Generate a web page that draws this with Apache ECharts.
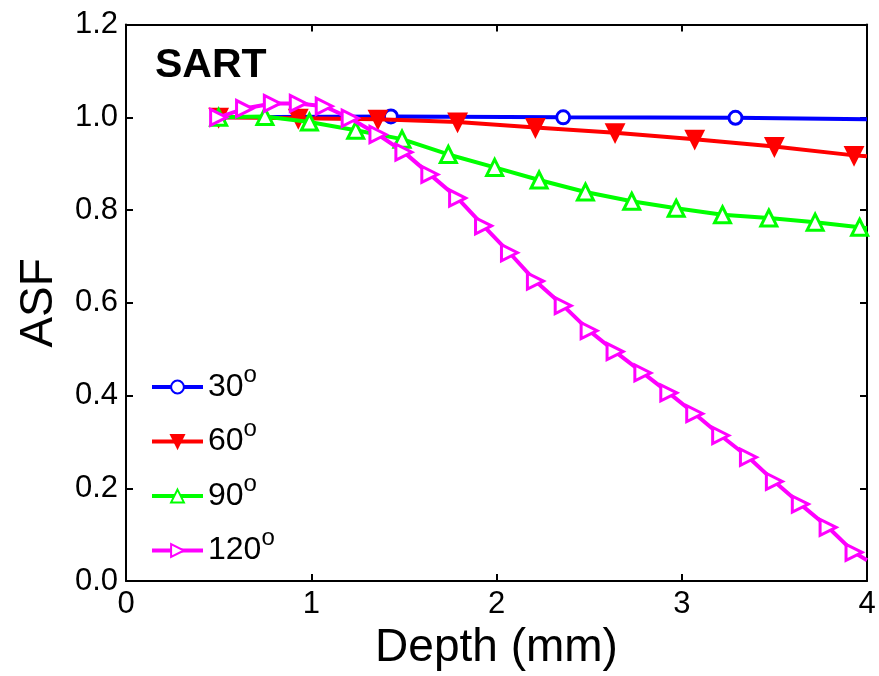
<!DOCTYPE html>
<html>
<head>
<meta charset="utf-8">
<script src="https://cdn.jsdelivr.net/npm/echarts@6/dist/echarts.min.js"></script>
<style>
  html, body { margin: 0; padding: 0; background: #fff; }
  #chart { width: 879px; height: 676px; }
</style>
</head>
<body>
<div id="chart"></div>
<script>
// ASF vs depth for four beam angles (SART reconstruction)
const seriesNames = ['30', '60', '90', '120'];
const seriesColors = ['#0000ff', '#ff0000', '#00ff00', '#ff00ff'];

const depth30 = [0.5, 1.43, 2.36, 3.29, 4.0];
const asf30 = [1.0, 1.002, 1.0, 0.999, 0.996];

const depth60 = [0.5, 0.93, 1.36, 1.79, 2.21, 2.64, 3.07, 3.5, 3.93, 4.0];
const asf60 = [1.0, 0.998, 0.996, 0.990, 0.978, 0.967, 0.953, 0.937, 0.918, 0.916];

const depth90 = [0.5, 0.75, 0.99, 1.24, 1.49, 1.74, 1.99, 2.23, 2.48, 2.73, 2.97, 3.22, 3.47, 3.72, 3.96, 4.0];
const asf90 = [1.0, 1.002, 0.99, 0.972, 0.953, 0.920, 0.892, 0.865, 0.839, 0.819, 0.804, 0.790, 0.783, 0.774, 0.763, 0.761];

const depth120 = [0.5, 0.64, 0.79, 0.93, 1.07, 1.21, 1.36, 1.5, 1.64, 1.79, 1.93, 2.07, 2.21,
                  2.36, 2.5, 2.64, 2.79, 2.93, 3.07, 3.21, 3.36, 3.5, 3.64, 3.79, 3.93, 4.0];
const asf120 = [1.0, 1.019, 1.030, 1.030, 1.024, 0.998, 0.963, 0.925, 0.877, 0.826, 0.766, 0.708, 0.647,
                0.594, 0.540, 0.495, 0.449, 0.406, 0.361, 0.314, 0.267, 0.215, 0.166, 0.116, 0.062, 0.045];

const xTicks = [0, 1, 2, 3, 4];
const yTicks = ['0.0', '0.2', '0.4', '0.6', '0.8', '1.0', '1.2'];

const FONT = '"Liberation Sans", Arial, Helvetica, sans-serif';

// the curve runs on to the axis edge; that last point carries no marker
function pairs(xs, ys) {
  return xs.map((x, i) => (x >= 4 ? { value: [x, ys[i]], symbol: 'none' } : [x, ys[i]]));
}

const markerStyles = [
  { symbol: 'circle', symbolSize: 13, symbolRotate: 0, fill: '#ffffff' },
  { symbol: 'triangle', symbolSize: 16, symbolRotate: 180, fill: null },
  { symbol: 'triangle', symbolSize: 16, symbolRotate: 0, fill: '#ffffff' },
  { symbol: 'triangle', symbolSize: 16, symbolRotate: -90, fill: '#ffffff' }
];

const dataSets = [
  pairs(depth30, asf30),
  pairs(depth60, asf60),
  pairs(depth90, asf90),
  pairs(depth120, asf120)
];

const series = seriesNames.map((name, i) => ({
  name: name,
  type: 'line',
  data: dataSets[i],
  symbol: markerStyles[i].symbol,
  symbolSize: markerStyles[i].symbolSize,
  symbolRotate: markerStyles[i].symbolRotate,
  showAllSymbol: true,
  lineStyle: { color: seriesColors[i], width: 4 },
  itemStyle: {
    color: markerStyles[i].fill || seriesColors[i],
    borderColor: seriesColors[i],
    borderWidth: 3
  },
  emphasis: { disabled: true },
  z: 2 + i
}));

const axisBase = {
  axisLine: { show: true, onZero: false, lineStyle: { color: '#000', width: 2 } },
  axisTick: { show: true, inside: true, length: 7, lineStyle: { color: '#000', width: 2 } },
  splitLine: { show: false }
};

const chart = echarts.init(document.getElementById('chart'), null, { renderer: 'canvas' });
chart.setOption({
  animation: false,
  backgroundColor: '#ffffff',
  grid: { left: 126, right: 12, top: 24.6, bottom: 93 },
  legend: {
    data: seriesNames,
    orient: 'vertical',
    left: 145,
    top: 358,
    itemWidth: 51,
    itemHeight: 16,
    itemGap: 14.5,
    selectedMode: false,
    lineStyle: { width: 4 },
    formatter: n => n + '{sup|o}',
    textStyle: {
      fontFamily: FONT,
      fontSize: 32,
      lineHeight: 32,
      color: '#000',
      rich: {
        sup: { fontFamily: FONT, fontSize: 24, height: 8, lineHeight: 10, verticalAlign: 'top', color: '#000' }
      }
    }
  },
  xAxis: [
    Object.assign({}, axisBase, {
      type: 'value', min: 0, max: 4, interval: 1, position: 'bottom',
      name: 'Depth (mm)', nameLocation: 'middle', nameGap: 23,
      nameTextStyle: { fontFamily: FONT, fontSize: 46, color: '#000' },
      axisLabel: {
        fontFamily: FONT, fontSize: 31, color: '#000', margin: 8,
        formatter: v => (xTicks.includes(v) ? String(v) : '')
      }
    }),
    Object.assign({}, axisBase, {
      type: 'value', min: 0, max: 4, interval: 1, position: 'top',
      axisLabel: { show: false }
    })
  ],
  yAxis: [
    Object.assign({}, axisBase, {
      type: 'value', min: 0, max: 1.2, interval: 0.2, position: 'left',
      name: 'ASF', nameLocation: 'middle', nameGap: 64, nameRotate: 90,
      nameTextStyle: { fontFamily: FONT, fontSize: 46, color: '#000' },
      axisLabel: {
        fontFamily: FONT, fontSize: 31, color: '#000', margin: 8,
        formatter: v => yTicks[Math.round(v / 0.2)]
      }
    }),
    Object.assign({}, axisBase, {
      type: 'value', min: 0, max: 1.2, interval: 0.2, position: 'right',
      axisLabel: { show: false }
    })
  ],
  graphic: [
    {
      type: 'text',
      left: 155,
      top: 45,
      style: { text: 'SART', fontFamily: FONT, fontSize: 41, fontWeight: 'bold', fill: '#000' }
    }
  ],
  series: series
});
</script>
</body>
</html>
